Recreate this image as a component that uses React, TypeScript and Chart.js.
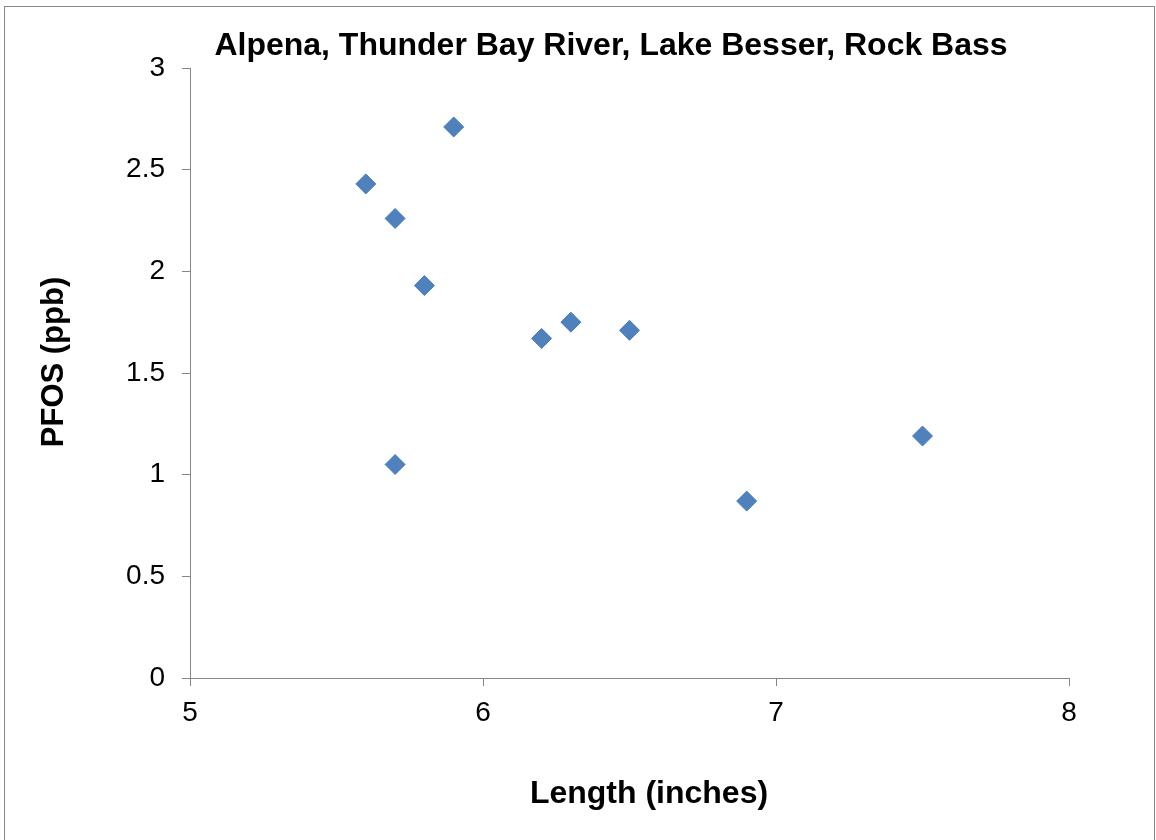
import React, { useEffect, useRef } from "react";
import { Chart, registerables } from "chart.js";

Chart.register(...registerables);

const chartTitle = "Alpena, Thunder Bay River, Lake Besser, Rock Bass";
const xAxisTitle = "Length (inches)";
const yAxisTitle = "PFOS (ppb)";
const lengths = [5.6, 5.7, 5.9, 5.8, 6.2, 6.3, 6.5, 5.7, 6.9, 7.5];
const pfos = [2.43, 2.26, 2.71, 1.93, 1.67, 1.75, 1.71, 1.05, 0.87, 1.19];
const xTicks = [5, 6, 7, 8];
const yTicks = [0, 0.5, 1, 1.5, 2, 2.5, 3];

const FONT = "'Liberation Sans', Arial, sans-serif";

const textPlugin = {
  id: "textPlugin",
  beforeDraw(chart: any) {
    const ctx = chart.ctx;
    ctx.save();
    ctx.fillStyle = "#ffffff";
    ctx.fillRect(0, 0, chart.width, chart.height);
    ctx.strokeStyle = "#888888";
    ctx.lineWidth = 1;
    ctx.strokeRect(4.5, 6.5, 1150, 840);
    ctx.restore();
  },
  afterDraw(chart: any) {
    const ctx = chart.ctx;
    ctx.save();
    ctx.fillStyle = "#000000";
    ctx.textAlign = "center";
    ctx.textBaseline = "middle";
    ctx.font = `bold 32px ${FONT}`;
    ctx.fillText(chartTitle, 611, 46);
    ctx.font = `bold 32px ${FONT}`;
    ctx.fillText(xAxisTitle, 649, 794);
    ctx.font = `bold 31px ${FONT}`;
    ctx.translate(54, 362);
    ctx.rotate(-Math.PI / 2);
    ctx.fillText(yAxisTitle, 0, 0);
    ctx.restore();
  },
};

export default function App() {
  const ref = useRef<HTMLCanvasElement | null>(null);
  useEffect(() => {
    document.body.style.margin = "0";
    const data = lengths.map((x, i) => ({ x, y: pfos[i] }));
    const chart = new Chart(ref.current as HTMLCanvasElement, {
      type: "scatter",
      data: {
        datasets: [
          {
            label: "PFOS",
            data,
            pointStyle: "rectRot",
            pointRadius: 10,
            pointHoverRadius: 10,
            backgroundColor: "#4F81BD",
            borderColor: "#4A7EBB",
            borderWidth: 1,
          },
        ],
      },
      options: {
        animation: false,
        responsive: false,
        layout: { padding: { left: 0, right: 87, top: 68, bottom: 0 } },
        plugins: { legend: { display: false }, title: { display: false }, tooltip: { enabled: false } },
        scales: {
          x: {
            type: "linear",
            min: 5,
            max: 8,
            afterBuildTicks: (s: any) => {
              s.ticks = xTicks.map((v) => ({ value: v }));
            },
            afterFit: (s: any) => {
              s.height = 162;
            },
            grid: { drawOnChartArea: false, drawTicks: true, tickLength: 8, color: "#868686" },
            border: { color: "#868686", width: 1 },
            ticks: { color: "#000", padding: 10, font: { family: FONT, size: 28 }, callback: (v: any) => String(v) },
          },
          y: {
            type: "linear",
            min: 0,
            max: 3,
            afterBuildTicks: (s: any) => {
              s.ticks = yTicks.map((v) => ({ value: v }));
            },
            afterFit: (s: any) => {
              s.width = 190;
            },
            grid: { drawOnChartArea: false, drawTicks: true, tickLength: 8, color: "#868686" },
            border: { color: "#868686", width: 1 },
            ticks: { color: "#000", padding: 17, font: { family: FONT, size: 28 }, callback: (v: any) => String(v) },
          },
        },
      },
      plugins: [textPlugin],
    });
    return () => chart.destroy();
  }, []);
  return (
    <div style={{ position: "absolute", left: 0, top: 0, width: 1156, height: 840 }}>
      <canvas ref={ref} width={1156} height={840} />
    </div>
  );
}
